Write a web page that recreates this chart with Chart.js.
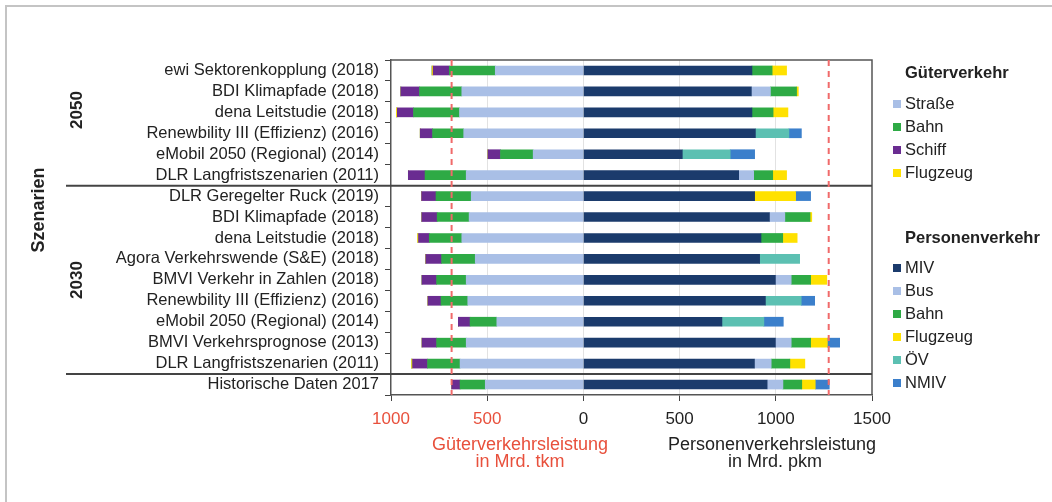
<!DOCTYPE html>
<html>
<head>
<meta charset="utf-8">
<script src="https://cdn.jsdelivr.net/npm/chart.js@4/dist/chart.umd.min.js"></script>
<style>
  body { margin: 0; background: #fff; font-family: "Liberation Sans", Arial, sans-serif; }
  #wrap { position: relative; width: 1052px; height: 502px; overflow: hidden; }
  #frame { position: absolute; left: 5px; top: 5px; width: 1060px; height: 510px;
           border-top: 2px solid #c4c4c4; border-left: 2px solid #c4c4c4; }
  canvas { position: absolute; left: 0; top: 0; }
  .txt { position: absolute; white-space: nowrap; color: #222; font-size: 16.5px; line-height: 1; }
  .b { font-weight: bold; }
  .rot { transform: translate(-50%, -50%) rotate(-90deg); }
  .red { color: #e8503c; }
  .leg { position: absolute; left: 893px; font-size: 16.5px; color: #222; white-space: nowrap; line-height: 1; }
  .leg i { display: inline-block; width: 8px; height: 8px; margin-right: 4px; vertical-align: 1px; }
</style>
</head>
<body>
<div id="wrap">
  <div id="frame"></div>
  <canvas id="chart" width="1052" height="502"></canvas>
</div>
<script>
// scenario rows, top to bottom
const categories = [
  "ewi Sektorenkopplung (2018)",
  "BDI Klimapfade (2018)",
  "dena Leitstudie (2018)",
  "Renewbility III (Effizienz) (2016)",
  "eMobil 2050 (Regional) (2014)",
  "DLR Langfristszenarien (2011)",
  "DLR Geregelter Ruck (2019)",
  "BDI Klimapfade (2018)",
  "dena Leitstudie (2018)",
  "Agora Verkehrswende (S&E) (2018)",
  "BMVI Verkehr in Zahlen (2018)",
  "Renewbility III (Effizienz) (2016)",
  "eMobil 2050 (Regional) (2014)",
  "BMVI Verkehrsprognose (2013)",
  "DLR Langfristszenarien (2011)",
  "Historische Daten 2017"
];

// Güterverkehr in Mrd. tkm
const gStrasse = [458, 632, 644, 622, 261, 609, 583, 594, 632, 562, 609, 601, 450, 609, 641, 510];
const gBahn    = [239, 220, 239, 162, 170, 214, 183, 166, 169, 175, 154, 139, 139, 154, 169, 131];
const gSchiff  = [84, 97, 84, 64, 65, 87, 75, 80, 56, 82, 76, 68, 61, 76, 78, 44];
const gFlug    = [6, 0, 5, 0, 0, 0, 0, 0, 5, 0, 0, 0, 0, 0, 5, 0];

// Personenverkehr in Mrd. pkm
const pMIV  = [876, 873, 876, 894, 514, 807, 890, 967, 923, 916, 998, 946, 720, 998, 889, 955];
const pBus  = [0, 99, 0, 0, 0, 78, 0, 80, 0, 0, 82, 0, 0, 82, 87, 82];
const pBahn = [105, 136, 110, 0, 0, 99, 0, 131, 113, 0, 101, 0, 0, 101, 97, 98];
const pFlug = [75, 9, 77, 0, 0, 72, 213, 9, 75, 0, 84, 0, 0, 87, 78, 70];
const pOEV  = [0, 0, 0, 174, 249, 0, 0, 0, 0, 208, 0, 186, 218, 0, 0, 0];
const pNMIV = [0, 0, 0, 65, 127, 0, 78, 0, 0, 0, 0, 70, 101, 64, 0, 73];

// red reference lines (values of 2017), x ticks
const refLines = [-685, 1275];
const xTicks = [-1000, -500, 0, 500, 1000, 1500];
// rows after which a group separator is drawn
const groupBreaks = [5, 14];

const RED = "#e8503c";
const neg = arr => arr.map(v => -v);

function ds(label, data, color) {
  return { label, data, backgroundColor: color, stack: "s", barThickness: 9, borderWidth: 0 };
}

const framePlugin = {
  id: "framePlugin",
  afterDatasetsDraw(chart) {
    const { ctx, chartArea: a, scales: { x, y } } = chart;
    ctx.save();
    // top and right frame
    ctx.strokeStyle = "#555";
    ctx.lineWidth = 1.5;
    ctx.beginPath();
    ctx.moveTo(a.left, a.top);
    ctx.lineTo(a.right, a.top);
    ctx.lineTo(a.right, a.bottom);
    ctx.stroke();
    // group separators
    ctx.strokeStyle = "#444";
    ctx.lineWidth = 2;
    groupBreaks.forEach(i => {
      const yy = (y.getPixelForValue(i) + y.getPixelForValue(i + 1)) / 2;
      ctx.beginPath();
      ctx.moveTo(66, yy);
      ctx.lineTo(a.right, yy);
      ctx.stroke();
    });
    // dashed reference lines
    ctx.strokeStyle = "#f06a6a";
    ctx.lineWidth = 2;
    ctx.setLineDash([6, 5]);
    refLines.forEach(v => {
      const xx = x.getPixelForValue(v);
      ctx.beginPath();
      ctx.moveTo(xx, a.top);
      ctx.lineTo(xx, a.bottom);
      ctx.stroke();
    });
    ctx.restore();
  }
};

new Chart(document.getElementById("chart").getContext("2d"), {
  type: "bar",
  data: {
    labels: categories,
    datasets: [
      ds("Straße", neg(gStrasse), "#a9bfe6"),
      ds("Bahn", neg(gBahn), "#2eaa45"),
      ds("Schiff", neg(gSchiff), "#6a2c91"),
      ds("Flugzeug", neg(gFlug), "#ffe100"),
      ds("MIV", pMIV, "#1b3b6c"),
      ds("Bus", pBus, "#a9bfe6"),
      ds("Bahn", pBahn, "#2eaa45"),
      ds("Flugzeug", pFlug, "#ffe100"),
      ds("ÖV", pOEV, "#5cc0b2"),
      ds("NMIV", pNMIV, "#3b7fcb")
    ]
  },
  options: {
    indexAxis: "y",
    responsive: false,
    animation: false,
    layout: { padding: { left: 0, right: 180, top: 60, bottom: 0 } },
    plugins: { legend: { display: false }, tooltip: { enabled: false } },
    scales: {
      x: {
        stacked: true,
        min: -1000,
        max: 1500,
        afterBuildTicks: s => { s.ticks = xTicks.map(v => ({ value: v })); },
        afterFit: s => { s.height = 107; },
        ticks: {
          padding: 8,
          font: { family: "Liberation Sans", size: 17 },
          color: c => (c.tick && c.tick.value < 0 ? RED : "#222"),
          callback: v => Math.abs(v)
        },
        grid: {
          tickLength: 6,
          tickColor: "#444",
          color: c => (c.tick && (c.tick.value === -1000 || c.tick.value === 1500) ? "rgba(0,0,0,0)" : "#e2e2e2")
        },
        border: { color: "#555", width: 1.5 }
      },
      y: {
        stacked: true,
        afterFit: s => { s.width = 391; },
        ticks: { autoSkip: false, padding: 6, color: "#222", font: { family: "Liberation Sans", size: 16.5 } },
        grid: { drawOnChartArea: false, tickLength: 6, tickColor: "#444" },
        border: { color: "#555", width: 1.5 }
      }
    }
  },
  plugins: [framePlugin]
});
</script>
<div class="txt b rot" style="left:38px; top:210px; font-size:18px;">Szenarien</div>
<div class="txt b rot" style="left:76px; top:110px; font-size:17px;">2050</div>
<div class="txt b rot" style="left:76px; top:280px; font-size:17px;">2030</div>

<div class="txt red" style="left:520px; top:435px; transform:translateX(-50%); font-size:18px;">Güterverkehrsleistung</div>
<div class="txt red" style="left:520px; top:452px; transform:translateX(-50%); font-size:18px;">in Mrd. tkm</div>
<div class="txt" style="left:772px; top:435px; transform:translateX(-50%); font-size:18px;">Personenverkehrsleistung</div>
<div class="txt" style="left:775px; top:452px; transform:translateX(-50%); font-size:18px;">in Mrd. pkm</div>

<div class="leg b" style="left:905px; top:64px;">Güterverkehr</div>
<div class="leg" style="top:95px;"><i style="background:#a9bfe6"></i>Straße</div>
<div class="leg" style="top:118px;"><i style="background:#2eaa45"></i>Bahn</div>
<div class="leg" style="top:141px;"><i style="background:#6a2c91"></i>Schiff</div>
<div class="leg" style="top:164px;"><i style="background:#ffe100"></i>Flugzeug</div>
<div class="leg b" style="left:905px; top:229px;">Personenverkehr</div>
<div class="leg" style="top:259px;"><i style="background:#1b3b6c"></i>MIV</div>
<div class="leg" style="top:282px;"><i style="background:#a9bfe6"></i>Bus</div>
<div class="leg" style="top:305px;"><i style="background:#2eaa45"></i>Bahn</div>
<div class="leg" style="top:328px;"><i style="background:#ffe100"></i>Flugzeug</div>
<div class="leg" style="top:351px;"><i style="background:#5cc0b2"></i>ÖV</div>
<div class="leg" style="top:374px;"><i style="background:#3b7fcb"></i>NMIV</div>
</body>
</html>
